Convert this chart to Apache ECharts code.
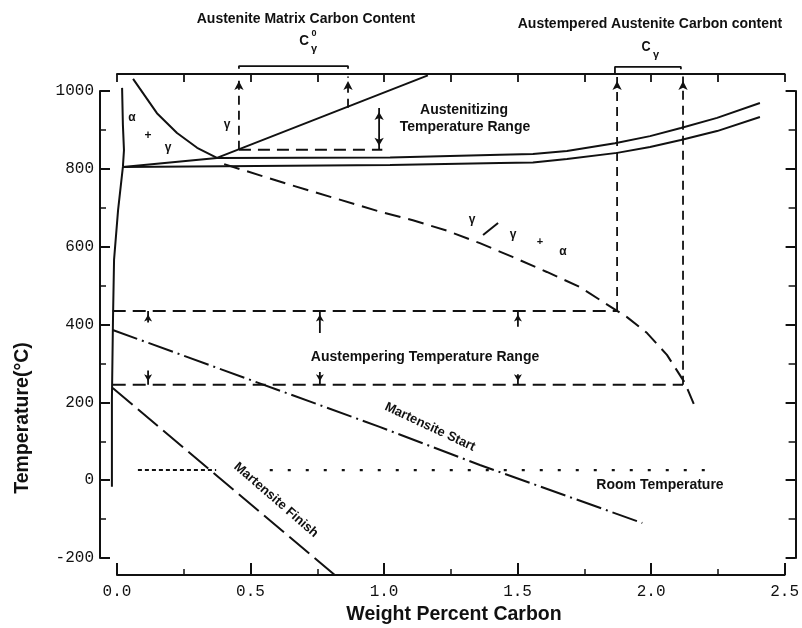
<!DOCTYPE html>
<html><head><meta charset="utf-8">
<script src="https://cdn.jsdelivr.net/npm/echarts@6/dist/echarts.min.js"></script>
<style>html,body{margin:0;padding:0;background:#fff}#c{width:802px;height:628px}</style>
</head><body><div id="c"></div>
<script>
// ---- tick labels ----
const xTickLabels = ['0.0','0.5','1.0','1.5','2.0','2.5'];
const yTickLabels = ['-200','0','200','400','600','800','1000'];

// ---- phase boundaries (wt% C, °C) ----
const alphaSolvus = [[0.019,1008],[0.022,913],[0.026,848],[0.022,805],[0.004,694],[-0.011,566],[-0.015,412],[-0.019,206],[-0.019,-17]];
const a3Line = [[0.060,1031],[0.149,943],[0.224,892],[0.299,854],[0.373,828]];
const acmLine = [[0.373,828],[1.16,1040]];
const a1Upper = [[0.022,805],[0.373,828],[1.019,829],[1.429,836],[1.552,838],[1.679,846],[1.858,866],[1.989,884],[2.104,905],[2.239,931],[2.399,969]];
const a1Lower = [[0.022,805],[1.019,810],[1.429,815],[1.552,816],[1.679,825],[1.866,841],[1.989,856],[2.104,874],[2.239,897],[2.399,933]];
const gammaAlphaLine = [[0.40,812],[0.646,759],[0.981,690],[1.104,668],[1.231,641],[1.354,609],[1.478,573],[1.604,535],[1.728,496],[1.866,435],[1.903,419],[1.978,378],[2.052,322],[2.119,250],[2.157,188]];
const msLine = [[-0.016,386],[0.98,137],[1.354,39],[1.96,-110]];
const mfLine = [[-0.016,237],[0.347,26],[0.813,-244]];
const roomTempDense = [[0.078,26],[0.37,26]];
const roomTempSparse = [[0.57,26],[2.213,26]];

// ---- construction lines ----
const austenitizingLow = [[0.455,849],[0.99,849]];
const austemperHigh = [[-0.016,435],[1.866,435]];
const austemperLow = [[-0.016,245],[2.112,245]];
// [x, yFrom, yTo] vertical dashed lines with arrow at yTo
const topArrowLines = [[0.455,849,1037],[0.862,957,1037],[1.866,435,1037],[2.112,245,1037]];
// double arrow [x, yLow, yHigh]
const austenitizingRange = [0.978,849,956];
// [x, yFrom, yTo]
const austemperUpArrows = [[0.116,405,435],[0.757,378,435],[1.496,394,435]];
const austemperDownArrows = [[0.116,282,245],[0.757,278,245],[1.496,272,245]];
// brackets
const bracketC0 = [[0.455,1057],[0.455,1064],[0.862,1064],[0.862,1057]];
const bracketC = [[1.858,1044],[1.858,1062],[2.104,1062],[2.104,1056]];
const slashMark = [[1.366,630],[1.422,661]];

const K = '#111';
// layout of the plot box
const G = {left:117, right:15, top:91, bottom:70, axisGap:17};
const W = 802, H = 628;
const pxPerUnit = (W - G.left - G.right) / 2.5;
const dataXMin = -G.axisGap / pxPerUnit; // hidden data axis reaches the left axis line

function ln(data, width, dash) {
  return {type:'line', xAxisIndex:2, yAxisIndex:2, data:data, symbol:'none', clip:false, silent:true, animation:false,
    lineStyle:{color:K, width:width, type: dash || 'solid', cap:'butt'}};
}
function arrowSeries(segs, dash, size) {
  const data = [];
  segs.forEach(s => {
    const up = s[2] > s[1];
    data.push({value:[s[0], s[1]], symbol:'none'});
    data.push({value:[s[0], s[2]], symbol:'arrow', symbolSize:size, symbolRotate: up ? 0 : 180,
      symbolOffset:[0, up ? size[1]/2 : -size[1]/2]});
    data.push(null);
  });
  return {type:'line', xAxisIndex:2, yAxisIndex:2, data:data, clip:false, silent:true, animation:false, connectNulls:false,
    showAllSymbol:true, itemStyle:{color:K}, lineStyle:{color:K, width:1.8, type:dash||'solid'}};
}

const series = [
  ln(alphaSolvus, 2),
  ln(a3Line, 2),
  ln(acmLine, 2),
  ln(a1Upper, 2),
  ln(a1Lower, 2),
  ln(gammaAlphaLine, 2, [16,8]),
  ln(msLine, 2, [26,5,2,5]),
  ln(mfLine, 2, [26,7]),
  ln(roomTempDense, 2, [4,3]),
  ln(roomTempSparse, 2.2, [3,15]),
  ln(austenitizingLow, 2, [12,7]),
  ln(austemperHigh, 2, [13,7]),
  ln(austemperLow, 2, [13,7]),
  ln(bracketC0, 1.8),
  ln(bracketC, 1.8),
  ln(slashMark, 2),
  arrowSeries(topArrowLines, [9,6], [7,9]),
  arrowSeries([[austenitizingRange[0], (austenitizingRange[1]+austenitizingRange[2])/2, austenitizingRange[2]],
               [austenitizingRange[0], (austenitizingRange[1]+austenitizingRange[2])/2, austenitizingRange[1]]], 'solid', [7,8]),
  arrowSeries(austemperUpArrows, 'solid', [6,7]),
  arrowSeries(austemperDownArrows, 'solid', [6,7])
];

const txtFont = '"Liberation Sans", Arial, sans-serif';
function T(text, x, y, size, rotDeg, sx, weight) {
  return {type:'text', x:x, y:y, rotation:(rotDeg||0)*Math.PI/180, scaleX: sx || 1, silent:true,
    style:{text:text, fill:K, fontSize:size, fontWeight: weight || 'bold', fontFamily:txtFont,
      align:'center', verticalAlign:'middle', textAlign:'center', textVerticalAlign:'middle'}};
}
const graphics = [
  T('Temperature(°C)', 23, 418, 19.5, 90),
  T('Weight Percent Carbon', 454, 615, 19.5),
  T('Austenite Matrix Carbon Content', 306, 19, 14),
  T('Austempered Austenite Carbon content', 650, 24, 14),
  T('C', 304, 41, 15, 0, 0.9),
  T('0', 314, 34, 9),
  T('γ', 314, 49, 11),
  T('C', 646, 47, 14, 0, 0.9),
  T('γ', 656, 55, 11),
  T('Austenitizing', 464, 110, 14),
  T('Temperature Range', 465, 127, 14),
  T('Austempering Temperature Range', 425, 357, 14),
  T('Room Temperature', 660, 485, 14),
  T('Martensite Start', 430, 427, 13, -25),
  T('Martensite Finish', 276, 500, 13, -41),
  T('α', 132, 118, 12),
  T('+', 148, 136, 12),
  T('γ', 168, 148, 12),
  T('γ', 227, 125, 12),
  T('γ', 472, 220, 12),
  T('γ', 513, 235, 12),
  T('+', 540, 242, 11),
  T('α', 563, 252, 12)
];

const monoFont = '"Liberation Mono", "DejaVu Sans Mono", monospace';
const axisLineStyle = {color:K, width:2};
const chart = echarts.init(document.getElementById('c'), null, {renderer:'canvas'});
chart.setOption({
  animation:false,
  backgroundColor:'#fff',
  grid:[
    {left:G.left, right:G.right, top:G.top, bottom:G.bottom, containLabel:false},
    {left:G.left - G.axisGap, right:G.right, top:G.top, bottom:G.bottom, containLabel:false}
  ],
  xAxis:[
    {type:'value', gridIndex:0, position:'bottom', min:0, max:2.5, interval:0.5, offset:G.axisGap,
      axisLine:{show:true, onZero:false, lineStyle:axisLineStyle},
      axisTick:{show:true, inside:true, length:12, lineStyle:{color:K, width:2}},
      minorTick:{show:true, splitNumber:2, length:6, lineStyle:{color:K, width:1.5}},
      splitLine:{show:false},
      axisLabel:{margin:9, color:K, fontSize:16, fontFamily:monoFont,
        formatter:(v) => xTickLabels[Math.round(v/0.5)] || ''}},
    {type:'value', gridIndex:0, position:'top', min:0, max:2.5, interval:0.25, offset:G.axisGap,
      axisLine:{show:true, onZero:false, lineStyle:axisLineStyle},
      axisTick:{show:true, inside:true, length:8, lineStyle:{color:K, width:1.8}},
      splitLine:{show:false}, axisLabel:{show:false}},
    {type:'value', gridIndex:1, show:false, min:dataXMin, max:2.5, splitLine:{show:false}}
  ],
  yAxis:[
    {type:'value', gridIndex:0, position:'left', min:-200, max:1000, interval:200, offset:G.axisGap,
      axisLine:{show:true, onZero:false, lineStyle:axisLineStyle},
      axisTick:{show:true, inside:true, length:10, lineStyle:{color:K, width:2}},
      minorTick:{show:true, splitNumber:2, length:6, lineStyle:{color:K, width:1.5}},
      splitLine:{show:false},
      axisLabel:{margin:6, color:K, fontSize:16, fontFamily:monoFont,
        formatter:(v) => yTickLabels[Math.round((v+200)/200)] || ''}},
    {type:'value', gridIndex:0, position:'right', min:-200, max:1000, interval:200, offset:11,
      axisLine:{show:true, onZero:false, lineStyle:axisLineStyle},
      axisTick:{show:true, inside:true, length:10, lineStyle:{color:K, width:2}},
      minorTick:{show:true, splitNumber:2, length:7, lineStyle:{color:K, width:1.5}},
      splitLine:{show:false}, axisLabel:{show:false}},
    {type:'value', gridIndex:1, show:false, min:-200, max:1000, splitLine:{show:false}}
  ],
  series: series,
  graphic: graphics
});
</script></body></html>
